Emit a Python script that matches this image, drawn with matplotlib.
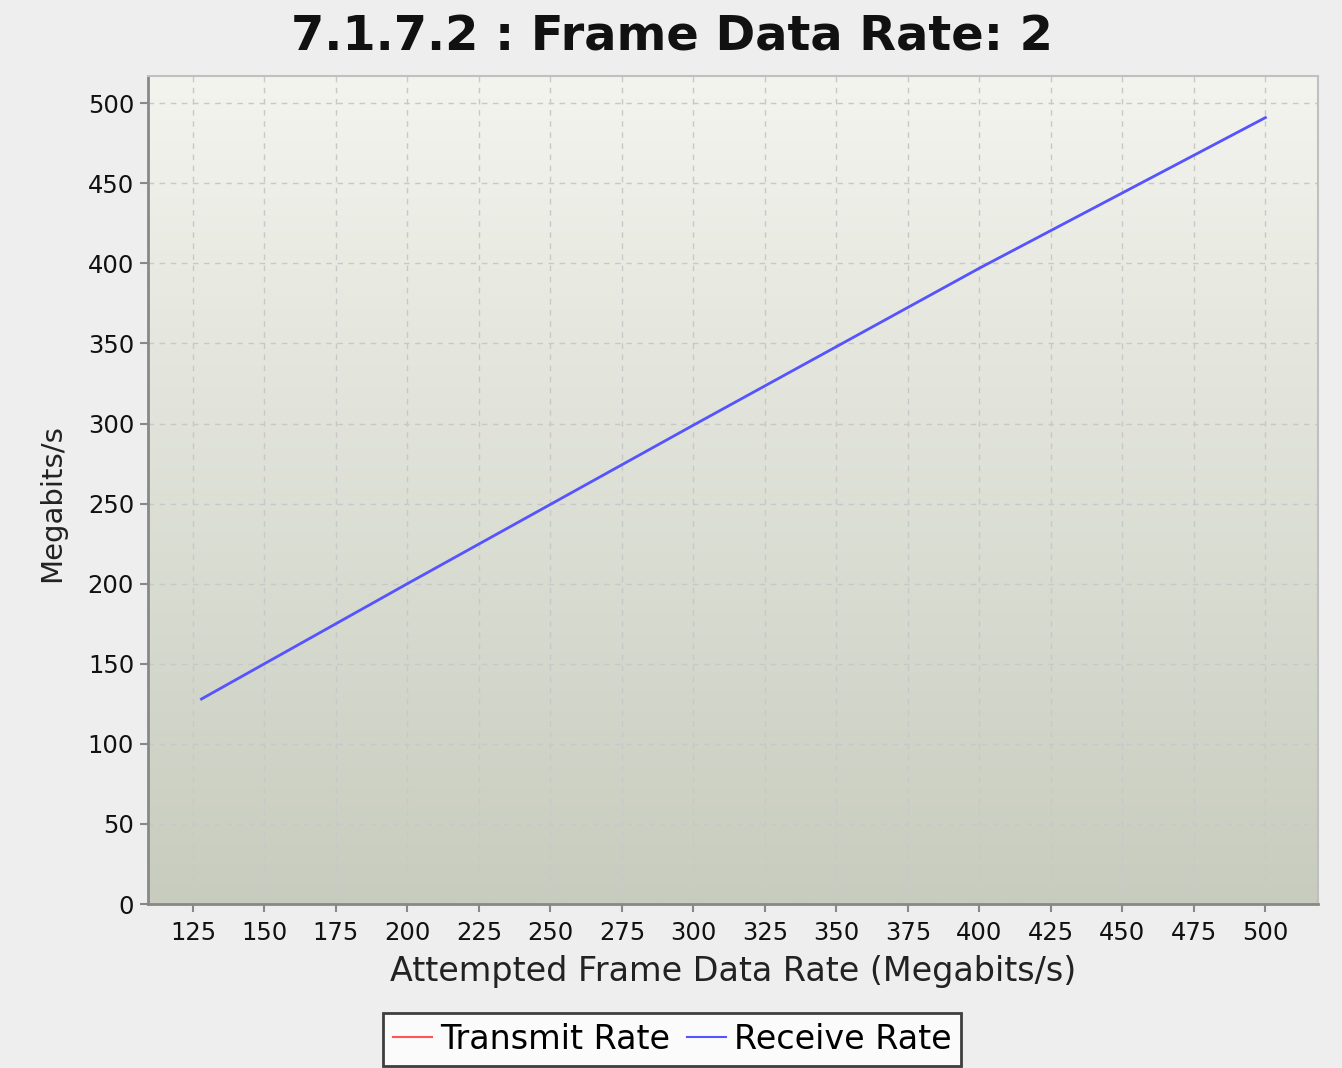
import numpy as np
import matplotlib
matplotlib.use("Agg")
import matplotlib.pyplot as plt
from matplotlib.lines import Line2D

attempted = [128, 200, 300, 400, 500]
transmit = [128, 200, 299, 397, 491]
receive = [128, 200, 299, 397, 491]
xticks = [125, 150, 175, 200, 225, 250, 275, 300, 325, 350, 375, 400, 425, 450, 475, 500]
yticks = [0, 50, 100, 150, 200, 250, 300, 350, 400, 450, 500]

W, H = 1342, 1068
fig = plt.figure(figsize=(W / 100, H / 100), dpi=100, facecolor="#eeeeee")
ax = fig.add_axes([148 / W, 1 - 904 / H, (1318 - 148) / W, (904 - 76) / H])

xlim = (109.3, 518.4)
ylim = (0, 517)
ax.set_xlim(*xlim)
ax.set_ylim(*ylim)

top = np.array([0xf3, 0xf4, 0xee]) / 255
bot = np.array([0xc8, 0xcc, 0xbe]) / 255
t = np.linspace(0, 1, 256)[:, None]
grad = (top[None, :] * (1 - t) + bot[None, :] * t)[:, None, :]
ax.imshow(grad, extent=[xlim[0], xlim[1], ylim[0], ylim[1]], aspect="auto", zorder=0, interpolation="bilinear")

ax.set_xticks(xticks)
ax.set_yticks(yticks)
ax.grid(True, color="#c8c8c8", linestyle=(0, (4, 4)), linewidth=1.0, zorder=1)

ax.plot(attempted, transmit, color="#ff5555", linewidth=1.2, zorder=3)
ax.plot(attempted, receive, color="#5555ff", linewidth=2.0, zorder=4)

for s in ["top", "right"]:
    ax.spines[s].set_color("#c0c0c0")
    ax.spines[s].set_linewidth(1.5)
for s in ["left", "bottom"]:
    ax.spines[s].set_color("#888888")
    ax.spines[s].set_linewidth(2)

ax.tick_params(axis="both", colors="#888888", length=6, width=1.5, labelcolor="#111111", labelsize=17.5)
ax.tick_params(axis="x", pad=6)
ax.tick_params(axis="y", pad=4)

ax.set_xlabel("Attempted Frame Data Rate (Megabits/s)", fontsize=24, color="#222222")
ax.set_ylabel("Megabits/s", fontsize=21, color="#222222")
ax.xaxis.label.set_va("center")
ax.yaxis.label.set_va("center")
ax.xaxis.set_label_coords(0.5, (904 - 971) / 828)
ax.yaxis.set_label_coords((52 - 148) / 1170, (904 - 503) / 828)

fig.text(672 / W, 1 - 37 / H, "7.1.7.2 : Frame Data Rate: 2", ha="center", va="center",
         fontsize=34.5, fontweight="bold", color="#111111")

handles = [Line2D([0], [0], color="#ff5555", lw=1.5), Line2D([0], [0], color="#5555ff", lw=1.5)]
leg = fig.legend(handles, ["Transmit Rate", "Receive Rate"], loc="upper center", bbox_to_anchor=(672 / W, 1 - 1013 / H),
                 ncol=2, fontsize=24, frameon=True, fancybox=False, edgecolor="#111111",
                 handlelength=1.17, handletextpad=0.25, columnspacing=0.5, borderpad=0.3, borderaxespad=0)
leg.get_frame().set_linewidth(2)
leg.get_frame().set_facecolor("white")

fig.savefig("out.png", dpi=100, facecolor=fig.get_facecolor())
